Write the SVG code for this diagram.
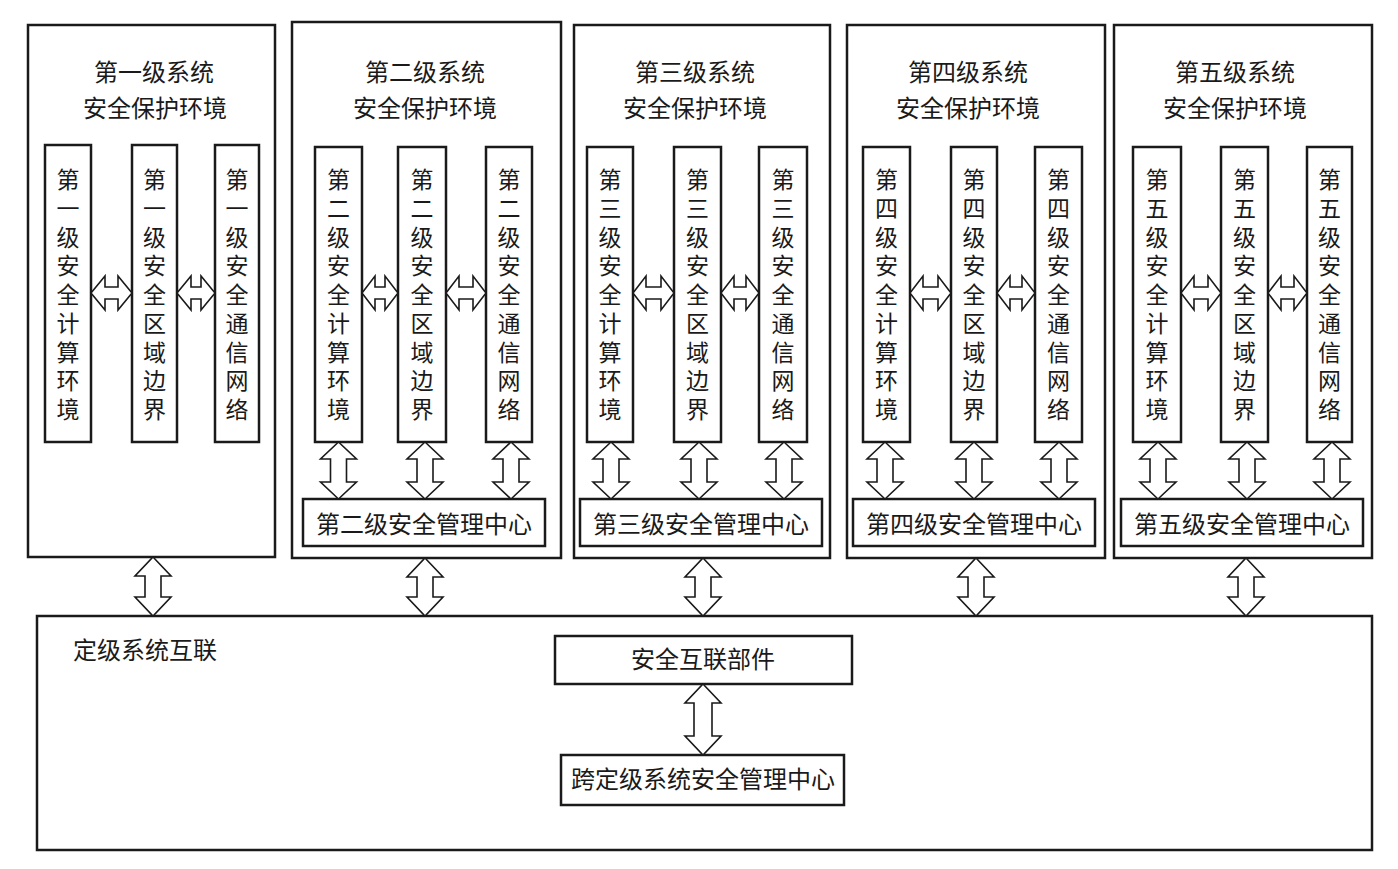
<svg xmlns="http://www.w3.org/2000/svg" width="1398" height="869" viewBox="0 0 1398 869">
<style>
.box{fill:#fff;stroke:#1a1a1a;stroke-width:2.5}
.col{fill:#fff;stroke:#1a1a1a;stroke-width:2.5}
.arr{fill:#fff;stroke:#1a1a1a;stroke-width:1.6;stroke-linejoin:miter}
text{font-family:"Liberation Serif","Noto Sans CJK SC",serif;fill:#1a1a1a;font-size:24px;text-anchor:middle}
.v{font-size:23px}
</style>
<rect width="1398" height="869" fill="#fff"/>
<g id="interconnect">
<rect class="box" x="37" y="616" width="1335" height="234"/>
<text x="145" y="659">定级系统互联</text>
</g>
<g id="sec-interconnect-part">
<rect class="box" x="555" y="636" width="297" height="48"/>
<text x="703" y="668">安全互联部件</text>
</g>
<g id="cross-mgmt">
<rect class="box" x="561" y="755" width="283" height="50"/>
<text x="703" y="788">跨定级系统安全管理中心</text>
</g>
<g id="level1">
<rect class="box" x="28" y="25" width="247" height="532"/>
<text x="154" y="81">第一级系统</text>
<text x="155" y="117">安全保护环境</text>
<rect class="col" x="45" y="145" width="46" height="297"/>
<rect class="col" x="132" y="145" width="45" height="297"/>
<rect class="col" x="215" y="145" width="44" height="297"/>
<text class="v" x="68" y="188"><tspan x="68">第</tspan><tspan x="68" dy="28.75">一</tspan><tspan x="68" dy="28.75">级</tspan><tspan x="68" dy="28.75">安</tspan><tspan x="68" dy="28.75">全</tspan><tspan x="68" dy="28.75">计</tspan><tspan x="68" dy="28.75">算</tspan><tspan x="68" dy="28.75">环</tspan><tspan x="68" dy="28.75">境</tspan></text>
<text class="v" x="154.5" y="188"><tspan x="154.5">第</tspan><tspan x="154.5" dy="28.75">一</tspan><tspan x="154.5" dy="28.75">级</tspan><tspan x="154.5" dy="28.75">安</tspan><tspan x="154.5" dy="28.75">全</tspan><tspan x="154.5" dy="28.75">区</tspan><tspan x="154.5" dy="28.75">域</tspan><tspan x="154.5" dy="28.75">边</tspan><tspan x="154.5" dy="28.75">界</tspan></text>
<text class="v" x="237" y="188"><tspan x="237">第</tspan><tspan x="237" dy="28.75">一</tspan><tspan x="237" dy="28.75">级</tspan><tspan x="237" dy="28.75">安</tspan><tspan x="237" dy="28.75">全</tspan><tspan x="237" dy="28.75">通</tspan><tspan x="237" dy="28.75">信</tspan><tspan x="237" dy="28.75">网</tspan><tspan x="237" dy="28.75">络</tspan></text>
</g>
<g id="level2">
<rect class="box" x="292" y="22" width="269" height="536"/>
<text x="425" y="81">第二级系统</text>
<text x="425" y="117">安全保护环境</text>
<rect class="col" x="315" y="147" width="47" height="295"/>
<rect class="col" x="398" y="147" width="48" height="295"/>
<rect class="col" x="486" y="147" width="46" height="295"/>
<text class="v" x="338.5" y="188"><tspan x="338.5">第</tspan><tspan x="338.5" dy="28.75">二</tspan><tspan x="338.5" dy="28.75">级</tspan><tspan x="338.5" dy="28.75">安</tspan><tspan x="338.5" dy="28.75">全</tspan><tspan x="338.5" dy="28.75">计</tspan><tspan x="338.5" dy="28.75">算</tspan><tspan x="338.5" dy="28.75">环</tspan><tspan x="338.5" dy="28.75">境</tspan></text>
<text class="v" x="422" y="188"><tspan x="422">第</tspan><tspan x="422" dy="28.75">二</tspan><tspan x="422" dy="28.75">级</tspan><tspan x="422" dy="28.75">安</tspan><tspan x="422" dy="28.75">全</tspan><tspan x="422" dy="28.75">区</tspan><tspan x="422" dy="28.75">域</tspan><tspan x="422" dy="28.75">边</tspan><tspan x="422" dy="28.75">界</tspan></text>
<text class="v" x="509" y="188"><tspan x="509">第</tspan><tspan x="509" dy="28.75">二</tspan><tspan x="509" dy="28.75">级</tspan><tspan x="509" dy="28.75">安</tspan><tspan x="509" dy="28.75">全</tspan><tspan x="509" dy="28.75">通</tspan><tspan x="509" dy="28.75">信</tspan><tspan x="509" dy="28.75">网</tspan><tspan x="509" dy="28.75">络</tspan></text>
<rect class="box" x="303" y="499" width="242" height="47"/>
<text x="424" y="533">第二级安全管理中心</text>
</g>
<g id="level3">
<rect class="box" x="574" y="25" width="256" height="533"/>
<text x="695" y="81">第三级系统</text>
<text x="695" y="117">安全保护环境</text>
<rect class="col" x="587" y="147" width="46" height="295"/>
<rect class="col" x="674" y="147" width="47" height="295"/>
<rect class="col" x="759" y="147" width="48" height="295"/>
<text class="v" x="610" y="188"><tspan x="610">第</tspan><tspan x="610" dy="28.75">三</tspan><tspan x="610" dy="28.75">级</tspan><tspan x="610" dy="28.75">安</tspan><tspan x="610" dy="28.75">全</tspan><tspan x="610" dy="28.75">计</tspan><tspan x="610" dy="28.75">算</tspan><tspan x="610" dy="28.75">环</tspan><tspan x="610" dy="28.75">境</tspan></text>
<text class="v" x="697.5" y="188"><tspan x="697.5">第</tspan><tspan x="697.5" dy="28.75">三</tspan><tspan x="697.5" dy="28.75">级</tspan><tspan x="697.5" dy="28.75">安</tspan><tspan x="697.5" dy="28.75">全</tspan><tspan x="697.5" dy="28.75">区</tspan><tspan x="697.5" dy="28.75">域</tspan><tspan x="697.5" dy="28.75">边</tspan><tspan x="697.5" dy="28.75">界</tspan></text>
<text class="v" x="783" y="188"><tspan x="783">第</tspan><tspan x="783" dy="28.75">三</tspan><tspan x="783" dy="28.75">级</tspan><tspan x="783" dy="28.75">安</tspan><tspan x="783" dy="28.75">全</tspan><tspan x="783" dy="28.75">通</tspan><tspan x="783" dy="28.75">信</tspan><tspan x="783" dy="28.75">网</tspan><tspan x="783" dy="28.75">络</tspan></text>
<rect class="box" x="580" y="499" width="242" height="47"/>
<text x="701" y="533">第三级安全管理中心</text>
</g>
<g id="level4">
<rect class="box" x="847" y="25" width="258" height="533"/>
<text x="968" y="81">第四级系统</text>
<text x="968" y="117">安全保护环境</text>
<rect class="col" x="863" y="147" width="47" height="295"/>
<rect class="col" x="951" y="147" width="46" height="295"/>
<rect class="col" x="1035" y="147" width="47" height="295"/>
<text class="v" x="886.5" y="188"><tspan x="886.5">第</tspan><tspan x="886.5" dy="28.75">四</tspan><tspan x="886.5" dy="28.75">级</tspan><tspan x="886.5" dy="28.75">安</tspan><tspan x="886.5" dy="28.75">全</tspan><tspan x="886.5" dy="28.75">计</tspan><tspan x="886.5" dy="28.75">算</tspan><tspan x="886.5" dy="28.75">环</tspan><tspan x="886.5" dy="28.75">境</tspan></text>
<text class="v" x="974" y="188"><tspan x="974">第</tspan><tspan x="974" dy="28.75">四</tspan><tspan x="974" dy="28.75">级</tspan><tspan x="974" dy="28.75">安</tspan><tspan x="974" dy="28.75">全</tspan><tspan x="974" dy="28.75">区</tspan><tspan x="974" dy="28.75">域</tspan><tspan x="974" dy="28.75">边</tspan><tspan x="974" dy="28.75">界</tspan></text>
<text class="v" x="1058.5" y="188"><tspan x="1058.5">第</tspan><tspan x="1058.5" dy="28.75">四</tspan><tspan x="1058.5" dy="28.75">级</tspan><tspan x="1058.5" dy="28.75">安</tspan><tspan x="1058.5" dy="28.75">全</tspan><tspan x="1058.5" dy="28.75">通</tspan><tspan x="1058.5" dy="28.75">信</tspan><tspan x="1058.5" dy="28.75">网</tspan><tspan x="1058.5" dy="28.75">络</tspan></text>
<rect class="box" x="853" y="499" width="242" height="47"/>
<text x="974" y="533">第四级安全管理中心</text>
</g>
<g id="level5">
<rect class="box" x="1114" y="25" width="258" height="533"/>
<text x="1235" y="81">第五级系统</text>
<text x="1235" y="117">安全保护环境</text>
<rect class="col" x="1133" y="147" width="48" height="295"/>
<rect class="col" x="1221" y="147" width="47" height="295"/>
<rect class="col" x="1307" y="147" width="45" height="295"/>
<text class="v" x="1157" y="188"><tspan x="1157">第</tspan><tspan x="1157" dy="28.75">五</tspan><tspan x="1157" dy="28.75">级</tspan><tspan x="1157" dy="28.75">安</tspan><tspan x="1157" dy="28.75">全</tspan><tspan x="1157" dy="28.75">计</tspan><tspan x="1157" dy="28.75">算</tspan><tspan x="1157" dy="28.75">环</tspan><tspan x="1157" dy="28.75">境</tspan></text>
<text class="v" x="1244.5" y="188"><tspan x="1244.5">第</tspan><tspan x="1244.5" dy="28.75">五</tspan><tspan x="1244.5" dy="28.75">级</tspan><tspan x="1244.5" dy="28.75">安</tspan><tspan x="1244.5" dy="28.75">全</tspan><tspan x="1244.5" dy="28.75">区</tspan><tspan x="1244.5" dy="28.75">域</tspan><tspan x="1244.5" dy="28.75">边</tspan><tspan x="1244.5" dy="28.75">界</tspan></text>
<text class="v" x="1329.5" y="188"><tspan x="1329.5">第</tspan><tspan x="1329.5" dy="28.75">五</tspan><tspan x="1329.5" dy="28.75">级</tspan><tspan x="1329.5" dy="28.75">安</tspan><tspan x="1329.5" dy="28.75">全</tspan><tspan x="1329.5" dy="28.75">通</tspan><tspan x="1329.5" dy="28.75">信</tspan><tspan x="1329.5" dy="28.75">网</tspan><tspan x="1329.5" dy="28.75">络</tspan></text>
<rect class="box" x="1121" y="499" width="242" height="47"/>
<text x="1242" y="533">第五级安全管理中心</text>
</g>
<g id="connectors">
<polygon class="arr" points="91,293 105,276 105,287 118,287 118,276 132,293 118,310 118,299 105,299 105,310"/>
<polygon class="arr" points="177,293 191,276 191,287 201,287 201,276 215,293 201,310 201,299 191,299 191,310"/>
<polygon class="arr" points="362,293 375,276 375,287 385,287 385,276 398,293 385,310 385,299 375,299 375,310"/>
<polygon class="arr" points="446,293 459,276 459,287 473,287 473,276 486,293 473,310 473,299 459,299 459,310"/>
<polygon class="arr" points="633,293 646,276 646,287 661,287 661,276 674,293 661,310 661,299 646,299 646,310"/>
<polygon class="arr" points="721,293 734,276 734,287 746,287 746,276 759,293 746,310 746,299 734,299 734,310"/>
<polygon class="arr" points="910,293 923,276 923,287 938,287 938,276 951,293 938,310 938,299 923,299 923,310"/>
<polygon class="arr" points="997,293 1010,276 1010,287 1022,287 1022,276 1035,293 1022,310 1022,299 1010,299 1010,310"/>
<polygon class="arr" points="1181,293 1194,276 1194,287 1208,287 1208,276 1221,293 1208,310 1208,299 1194,299 1194,310"/>
<polygon class="arr" points="1268,293 1281,276 1281,287 1294,287 1294,276 1307,293 1294,310 1294,299 1281,299 1281,310"/>
<polygon class="arr" points="338.5,442 356.5,459 346.5,459 346.5,482 356.5,482 338.5,499 320.5,482 330.5,482 330.5,459 320.5,459"/>
<polygon class="arr" points="425,442 443,459 433,459 433,482 443,482 425,499 407,482 417,482 417,459 407,459"/>
<polygon class="arr" points="511,442 529,459 519,459 519,482 529,482 511,499 493,482 503,482 503,459 493,459"/>
<polygon class="arr" points="611,442 629,459 619,459 619,482 629,482 611,499 593,482 603,482 603,459 593,459"/>
<polygon class="arr" points="699,442 717,459 707,459 707,482 717,482 699,499 681,482 691,482 691,459 681,459"/>
<polygon class="arr" points="784,442 802,459 792,459 792,482 802,482 784,499 766,482 776,482 776,459 766,459"/>
<polygon class="arr" points="885,442 903,459 893,459 893,482 903,482 885,499 867,482 877,482 877,459 867,459"/>
<polygon class="arr" points="974,442 992,459 982,459 982,482 992,482 974,499 956,482 966,482 966,459 956,459"/>
<polygon class="arr" points="1059,442 1077,459 1067,459 1067,482 1077,482 1059,499 1041,482 1051,482 1051,459 1041,459"/>
<polygon class="arr" points="1158,442 1176,459 1166,459 1166,482 1176,482 1158,499 1140,482 1150,482 1150,459 1140,459"/>
<polygon class="arr" points="1247,442 1265,459 1255,459 1255,482 1265,482 1247,499 1229,482 1239,482 1239,459 1229,459"/>
<polygon class="arr" points="1332,442 1350,459 1340,459 1340,482 1350,482 1332,499 1314,482 1324,482 1324,459 1314,459"/>
<polygon class="arr" points="153,557 171,576 161,576 161,597 171,597 153,616 135,597 145,597 145,576 135,576"/>
<polygon class="arr" points="425,558 443,577 433,577 433,597 443,597 425,616 407,597 417,597 417,577 407,577"/>
<polygon class="arr" points="703,558 721,577 711,577 711,597 721,597 703,616 685,597 695,597 695,577 685,577"/>
<polygon class="arr" points="976,558 994,577 984,577 984,597 994,597 976,616 958,597 968,597 968,577 958,577"/>
<polygon class="arr" points="1246,558 1264,577 1254,577 1254,597 1264,597 1246,616 1228,597 1238,597 1238,577 1228,577"/>
<polygon class="arr" points="703,684 721,703 712,703 712,736 721,736 703,755 685,736 694,736 694,703 685,703"/>
</g>
</svg>
